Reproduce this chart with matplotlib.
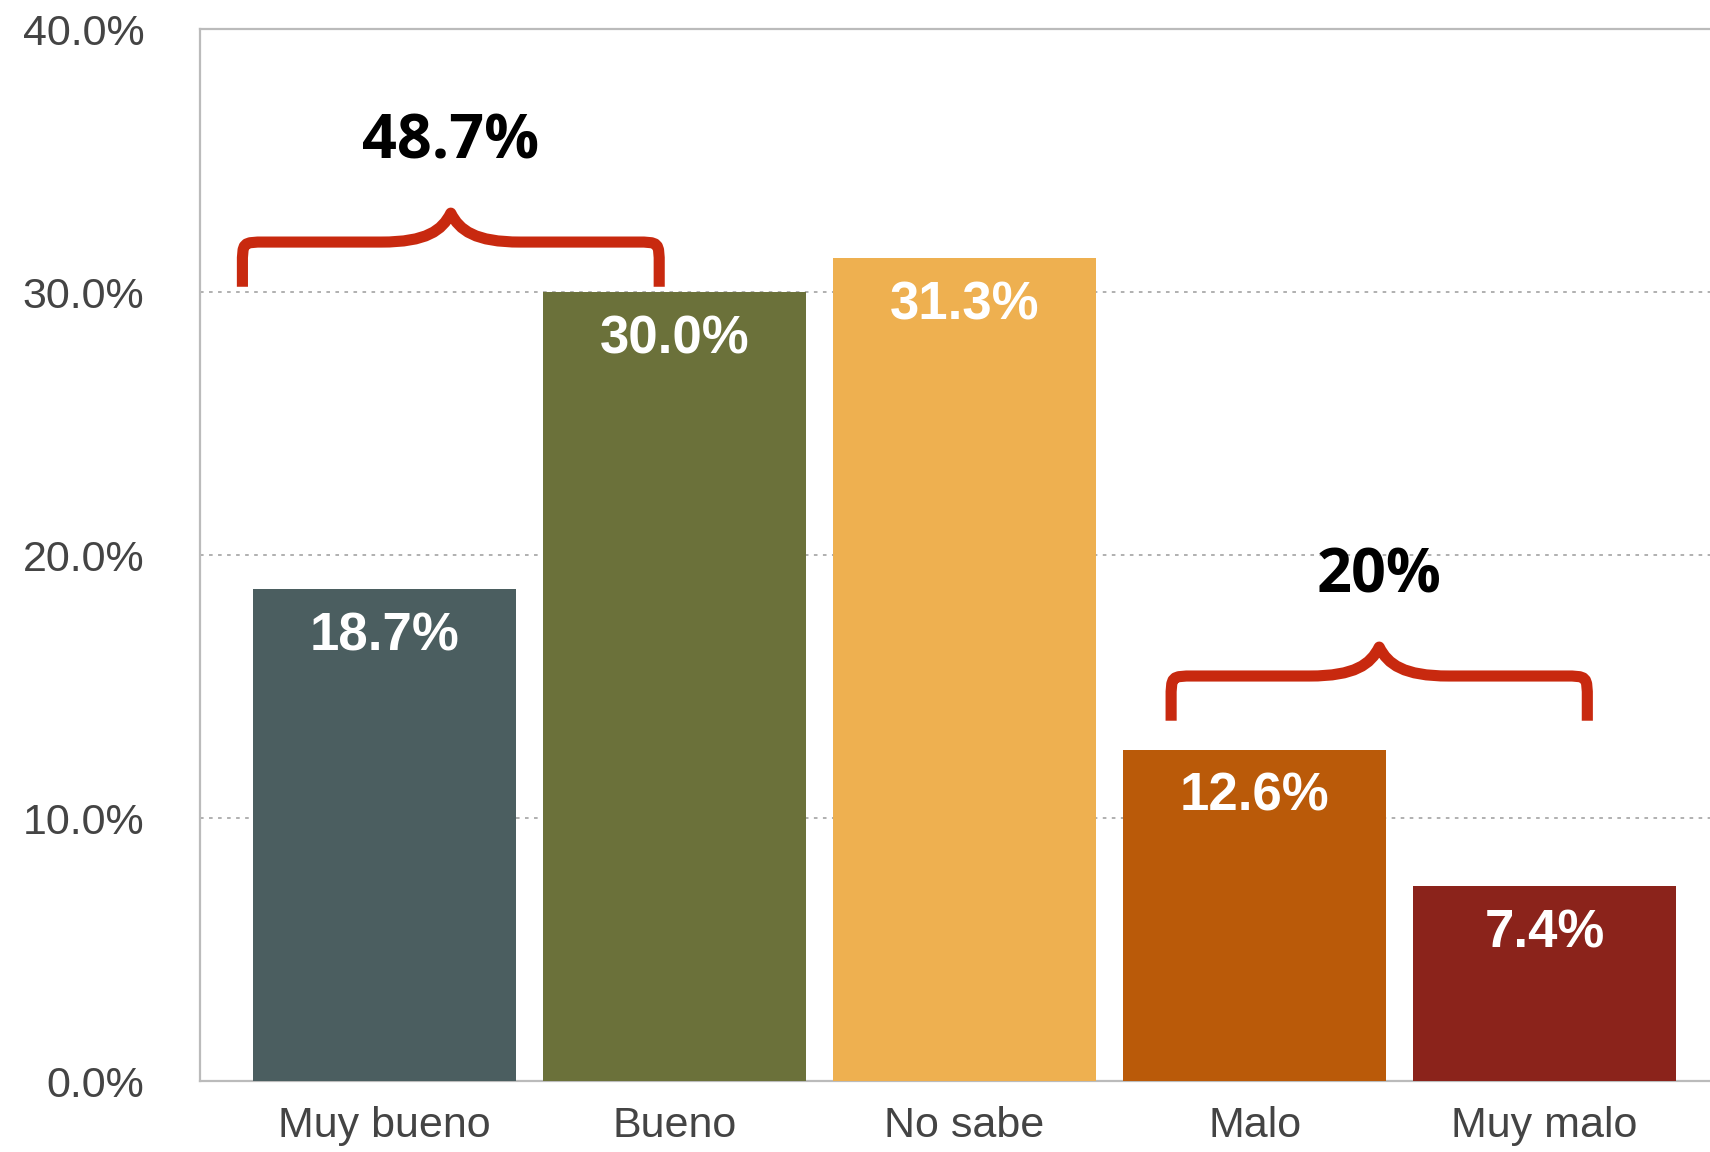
import matplotlib
matplotlib.use("Agg")
import matplotlib.pyplot as plt
from matplotlib.path import Path
from matplotlib.patches import PathPatch

# data
categories = ['Muy bueno', 'Bueno', 'No sabe', 'Malo', 'Muy malo']
values = [18.7, 30.0, 31.3, 12.6, 7.4]
bar_colors = ['#4B5E60', '#6B713A', '#EEB050', '#BA5A09', '#8B231B']
yticks = [0, 10, 20, 30, 40]
group_labels = ['48.7%', '20%']

fig = plt.figure(figsize=(17.1, 11.52), dpi=100)
ax = fig.add_axes([0.117, 0.0616, 0.883, 0.9132])

x = list(range(len(categories)))
ax.bar(x, values, width=0.907, color=bar_colors, zorder=3)

ax.set_xlim(-0.636, 4.57)
ax.set_ylim(0, 40)
ax.set_yticks(yticks)
ax.set_yticklabels(['%.1f%%' % v for v in yticks])
ax.set_xticks(x)
ax.set_xticklabels(categories)
ax.tick_params(axis='both', length=0, labelsize=31, labelcolor='#444444')
ax.tick_params(axis='y', pad=40)
ax.tick_params(axis='x', pad=18)
for lab in ax.get_xticklabels() + ax.get_yticklabels():
    lab.set_family('Liberation Sans')

ax.yaxis.grid(True, linestyle=(0, (2, 3)), color='#aaaaaa', linewidth=1.3, zorder=0)
for s in ['left', 'bottom', 'top']:
    ax.spines[s].set_color('#bbbbbb')
    ax.spines[s].set_linewidth(1.6)
ax.spines['right'].set_visible(False)

# value labels inside bars
for xi, v in zip(x, values):
    ax.text(xi, v - 1.8, '%.1f%%' % v, ha='center', va='center', color='white',
            fontsize=38, fontweight='bold', family='Liberation Sans', zorder=4)


def brace(xl, xr, yb, yh, yp, rx=0.08, ry=0.9):
    xc = (xl + xr) / 2
    w = 0.24
    verts = [(xl, yb), (xl, yh - ry),
             (xl, yh), (xl, yh), (xl + rx, yh),
             (xc - w, yh),
             (xc - w * 0.35, yh), (xc - 0.03, yh + (yp - yh) * 0.4), (xc, yp),
             (xc + 0.03, yh + (yp - yh) * 0.4), (xc + w * 0.35, yh), (xc + w, yh),
             (xr - rx, yh),
             (xr, yh), (xr, yh), (xr, yh - ry),
             (xr, yb)]
    codes = [Path.MOVETO, Path.LINETO,
             Path.CURVE4, Path.CURVE4, Path.CURVE4,
             Path.LINETO,
             Path.CURVE4, Path.CURVE4, Path.CURVE4,
             Path.CURVE4, Path.CURVE4, Path.CURVE4,
             Path.LINETO,
             Path.CURVE4, Path.CURVE4, Path.CURVE4,
             Path.LINETO]
    ax.add_patch(PathPatch(Path(verts, codes), fill=False, edgecolor='#C8290F',
                           linewidth=8, capstyle='butt', joinstyle='round',
                           zorder=5, clip_on=False))


# group braces and totals
brace_spots = [(-0.49, 0.947, 30.2), (2.712, 4.147, 13.7)]
for (xl, xr, yb), lab in zip(brace_spots, group_labels):
    brace(xl, xr, yb, yb + 1.7, yb + 2.8)
    ax.text((xl + xr) / 2, yb + 5.45, lab, ha='center', va='center', color='black',
            fontsize=44, fontweight='bold', family='Open Sans', zorder=5)

fig.savefig('out.png', dpi=100)
